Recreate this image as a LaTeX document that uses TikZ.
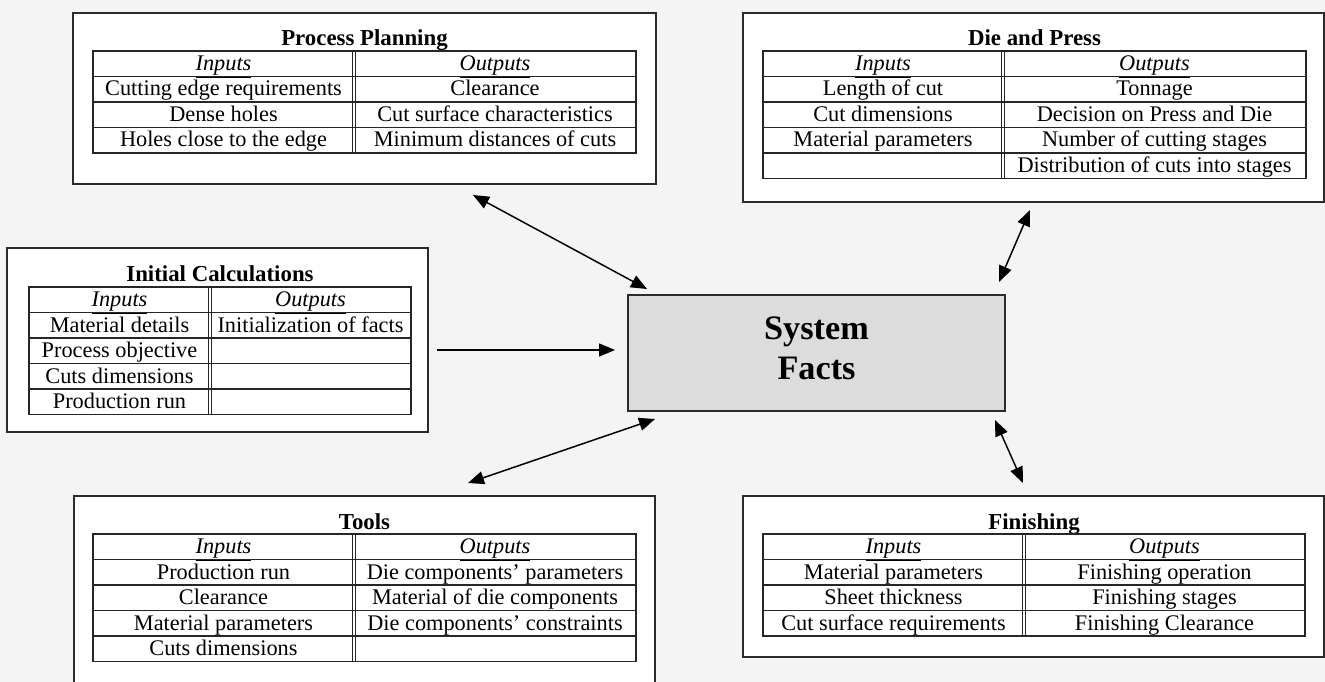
\documentclass[tikz,border=0pt]{standalone}
\usepackage{fontspec}
\setmainfont{Liberation Serif}
\usetikzlibrary{arrows.meta, fit}
\definecolor{bggray}{HTML}{F4F4F4}
\definecolor{factgray}{HTML}{DCDCDC}
\definecolor{edgegray}{HTML}{2B2B2B}

% input/output table: name, left, split, right, top, rows, entries
\newcommand\iotable[7]{%
  \node[cell] (#1-hin) at ({(#2+#3)/2},{#5+19.5}) {\underline{\textit{Inputs}}};
  \node[cell] (#1-hout) at ({(#3+#4)/2},{#5+19.5}) {\underline{\textit{Outputs}}};
  \foreach \a/\b [count=\n] in {#7} {
    \draw[tabline] (#2,{#5+25.5*\n}) -- (#4,{#5+25.5*\n});
    \node[cell] (#1-in\n) at ({(#2+#3)/2},{#5+25.5*\n+19.5}) {\a};
    \node[cell] (#1-out\n) at ({(#3+#4)/2},{#5+25.5*\n+19.5}) {\b};
  }
  \draw[tabline] (#2,#5) rectangle (#4,{#5+25.5*(#6+1)});
  \draw[tabline] (#3-1.3,#5) -- (#3-1.3,{#5+25.5*(#6+1)})
                 (#3+1.3,#5) -- (#3+1.3,{#5+25.5*(#6+1)});
}

\begin{document}
\begin{tikzpicture}[x=0.02cm, y=-0.02cm,
  >={Triangle[length=0.32cm, width=0.26cm]},
  panel/.style={draw=edgegray, line width=1.1pt, fill=white, inner sep=0pt},
  tabline/.style={draw=black!85, line width=0.6pt},
  cell/.style={anchor=base, inner sep=0pt, font=\fontsize{12.7}{15}\selectfont},
  ttl/.style={anchor=base, inner sep=0pt, font=\fontsize{13}{15}\selectfont\bfseries},
  facts/.style={draw=edgegray, line width=1.1pt, fill=factgray, inner sep=0pt},
  factstxt/.style={align=center, inner sep=0pt, font=\fontsize{19.5}{22.7}\selectfont\bfseries},
  link/.style={line width=0.85pt, black}]
\useasboundingbox (0,0) rectangle (1325,682);
\clip (0,0) rectangle (1325,682);
\fill[bggray] (0,0) rectangle (1325,682);

% process planning
\node[panel, fit={(73,13) (656,184)}] (pp) {};
\node[ttl] (pp-title) at (364.5,46) {Process Planning};
\iotable{pp}{93}{354}{636}{51}{3}{Cutting edge requirements/Clearance, Dense holes/Cut surface characteristics, Holes close to the edge/Minimum distances of cuts}

% die and press
\node[panel, fit={(743,13) (1324,202)}] (dp) {};
\node[ttl] (dp-title) at (1034.5,46) {Die and Press};
\iotable{dp}{763}{1003}{1306}{51}{4}{Length of cut/Tonnage, Cut dimensions/Decision on Press and Die, Material parameters/Number of cutting stages, {}/Distribution of cuts into stages}

% initial calculations
\node[panel, fit={(7,248) (428,432)}] (ic) {};
\node[ttl] (ic-title) at (220,281.5) {Initial Calculations};
\iotable{ic}{29}{210}{411}{287}{4}{Material details/Initialization of facts, Process objective/{}, Cuts dimensions/{}, Production run/{}}

% tools (runs off the bottom)
\node[panel, fit={(74,496) (655,720)}] (tl) {};
\node[ttl] (tl-title) at (364.5,529) {Tools};
\iotable{tl}{93}{354}{636}{534}{4}{Production run/Die components' parameters, Clearance/Material of die components, Material parameters/Die components' constraints, Cuts dimensions/{}}

% finishing
\node[panel, fit={(743,496) (1324,657)}] (fn) {};
\node[ttl] (fn-title) at (1034,529) {Finishing};
\iotable{fn}{763}{1024}{1305}{534}{3}{Material parameters/Finishing operation, Sheet thickness/Finishing stages, Cut surface requirements/Finishing Clearance}

% centre
\node[facts, fit={(628,295) (1005,411)}] (facts) {};
\node[factstxt] (facts-txt) at (816.5,348) {System\\Facts};

% links
\coordinate (pp-port) at (473,195);
\coordinate (facts-pp) at (647,289);
\coordinate (dp-port) at (1030,210);
\coordinate (facts-dp) at (999,282);
\coordinate (ic-port) at (437,350);
\coordinate (facts-ic) at (615,350);
\coordinate (tl-port) at (468,483);
\coordinate (facts-tl) at (655,419);
\coordinate (fn-port) at (1023,483);
\coordinate (facts-fn) at (995,420);
\draw[link, <->] (pp-port) -- (facts-pp);
\draw[link, <->] (dp-port) -- (facts-dp);
\draw[link, ->] (ic-port) -- (facts-ic);
\draw[link, <->] (tl-port) -- (facts-tl);
\draw[link, <->] (fn-port) -- (facts-fn);
\end{tikzpicture}
\end{document}
